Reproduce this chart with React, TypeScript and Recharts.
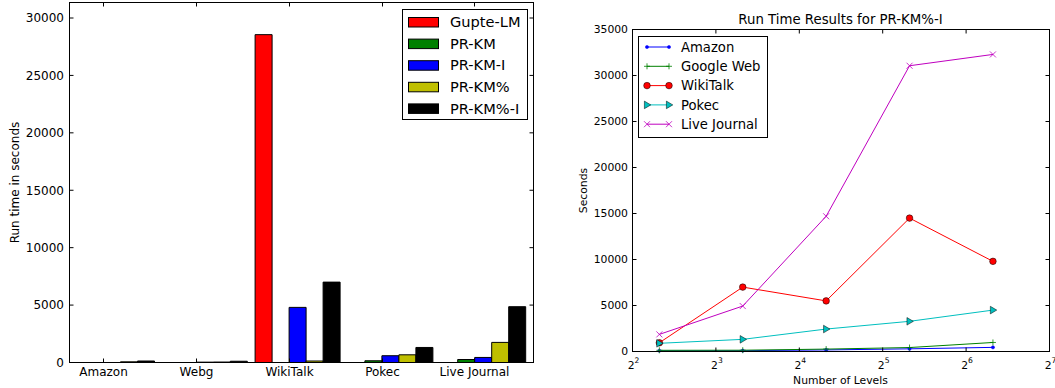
import React from "react";
import { BarChart, Bar, XAxis, YAxis, LineChart, Line, Legend } from "recharts";

// ---- left chart: run time per dataset ----
const datasets = ["Amazon", "Webg", "WikiTalk", "Pokec", "Live Journal"];
const gupteLM = [0, 0, 28550, 0, 0];
const prKM = [0, 0, 0, 150, 260];
const prKMI = [0, 30, 4800, 590, 440];
const prKMPct = [60, 40, 130, 670, 1750];
const prKMPctI = [130, 110, 7000, 1310, 4860];
const runTimeTicks = [0, 5000, 10000, 15000, 20000, 25000, 30000];

// ---- right chart: PR-KM%-I vs number of levels ----
const levels = [5, 10, 20, 40, 80];
const amazon = [80, 90, 170, 290, 450];
const googleWeb = [130, 140, 260, 430, 980];
const wikiTalk = [950, 7000, 5500, 14500, 9800];
const pokec = [890, 1320, 2440, 3280, 4500];
const liveJournal = [1860, 4940, 14700, 31060, 32290];
const levelTicks = [4, 8, 16, 32, 64, 128];
const secondsTicks = [0, 5000, 10000, 15000, 20000, 25000, 30000, 35000];

const FONT = "'DejaVu Sans', sans-serif";

const barSeries = [
  { key: "gupte", label: "Gupte-LM", color: "#ff0000" },
  { key: "prkm", label: "PR-KM", color: "#008000" },
  { key: "prkmi", label: "PR-KM-I", color: "#0000ff" },
  { key: "prkmp", label: "PR-KM%", color: "#bfbf00" },
  { key: "prkmpi", label: "PR-KM%-I", color: "#000000" },
];

const barRows = datasets.map((name, i) => ({
  name,
  gupte: gupteLM[i],
  prkm: prKM[i],
  prkmi: prKMI[i],
  prkmp: prKMPct[i],
  prkmpi: prKMPctI[i],
}));

const lineSeries = [
  { key: "amazon", label: "Amazon", color: "#0000ff", marker: "dot" },
  { key: "googleWeb", label: "Google Web", color: "#008000", marker: "plus" },
  { key: "wikiTalk", label: "WikiTalk", color: "#ff0000", marker: "circle" },
  { key: "pokec", label: "Pokec", color: "#00bfbf", marker: "tri" },
  { key: "liveJournal", label: "Live Journal", color: "#bf00bf", marker: "x" },
];

const lineRows = levels.map((lv, i) => ({
  levels: lv,
  amazon: amazon[i],
  googleWeb: googleWeb[i],
  wikiTalk: wikiTalk[i],
  pokec: pokec[i],
  liveJournal: liveJournal[i],
}));

function marker(kind: string, cx: number, cy: number, color: string) {
  if (kind === "dot") return <circle cx={cx} cy={cy} r={1.6} fill={color} stroke={color} strokeWidth={0.5} />;
  if (kind === "plus")
    return (
      <g stroke={color} strokeWidth={0.8}>
        <line x1={cx - 3} x2={cx + 3} y1={cy} y2={cy} />
        <line x1={cx} x2={cx} y1={cy - 3} y2={cy + 3} />
      </g>
    );
  if (kind === "circle")
    return <circle cx={cx} cy={cy} r={3.3} fill={color} stroke="#000" strokeWidth={0.5} />;
  if (kind === "tri")
    return (
      <polygon
        points={`${cx + 3.8},${cy} ${cx - 2.6},${cy - 3.8} ${cx - 2.6},${cy + 3.8}`}
        fill={color}
        stroke="#000"
        strokeWidth={0.5}
      />
    );
  return (
    <g stroke={color} strokeWidth={0.8}>
      <line x1={cx - 3} x2={cx + 3} y1={cy - 3} y2={cy + 3} />
      <line x1={cx - 3} x2={cx + 3} y1={cy + 3} y2={cy - 3} />
    </g>
  );
}

const makeDot = (kind: string, color: string) => (props: any) => {
  const { cx, cy, index } = props;
  return <g key={index}>{marker(kind, cx, cy, color)}</g>;
};

// left chart ticks (svg coords == page coords)
const BarXTick = (props: any) => {
  const { x, payload } = props;
  const tx = Math.round(x - 8.4) + 0.5;
  return (
    <g>
      <text x={tx} y={376} textAnchor="middle" fontFamily={FONT} fontSize={12} fill="#000">
        {payload.value}
      </text>
      <line x1={tx} x2={tx} y1={362.5} y2={358.5} stroke="#000" />
      <line x1={tx} x2={tx} y1={2.5} y2={6.5} stroke="#000" />
    </g>
  );
};

const BarYTick = (props: any) => {
  const { y, payload } = props;
  return (
    <g>
      <text x={64} y={y} dy={4.3} textAnchor="end" fontFamily={FONT} fontSize={12} fill="#000">
        {payload.value}
      </text>
      <line x1={69.5} x2={73.5} y1={y} y2={y} stroke="#000" />
      <line x1={533.5} x2={529.5} y1={y} y2={y} stroke="#000" />
    </g>
  );
};

// right chart ticks (svg offset 560px)
const LevelTick = (props: any) => {
  const { x, payload } = props;
  const exp = Math.round(Math.log2(payload.value));
  return (
    <g>
      <text x={x + 1} y={368.5} textAnchor="middle" fontFamily={FONT} fontSize={10.8} fill="#000">
        <tspan>2</tspan>
        <tspan fontSize={7.6} dy={-5.5}>
          {exp}
        </tspan>
      </text>
      <line x1={x} x2={x} y1={351.5} y2={347.5} stroke="#000" />
      <line x1={x} x2={x} y1={29.5} y2={33.5} stroke="#000" />
    </g>
  );
};

const SecondsTick = (props: any) => {
  const { y, payload } = props;
  return (
    <g>
      <text x={68} y={y} dy={3.9} textAnchor="end" fontFamily={FONT} fontSize={10.8} fill="#000">
        {payload.value}
      </text>
      <line x1={72.5} x2={76.5} y1={y} y2={y} stroke="#000" />
      <line x1={489.5} x2={485.5} y1={y} y2={y} stroke="#000" />
    </g>
  );
};

const BarLegend = () => (
  <svg width={127} height={112} style={{ display: "block" }}>
    <rect x={0.5} y={0.5} width={125} height={110} fill="#fff" stroke="#000" />
    {barSeries.map((s, i) => {
      const cy = 13 + i * 21.6;
      return (
        <g key={s.key}>
          <rect x={6.5} y={cy - 4.5} width={30} height={9.5} fill={s.color} stroke="#000" />
          <text x={48} y={cy} dy={5.2} fontFamily={FONT} fontSize={14.6} fill="#000">
            {s.label}
          </text>
        </g>
      );
    })}
  </svg>
);

const LineLegend = () => (
  <svg width={131} height={102} style={{ display: "block" }}>
    <rect x={0.5} y={0.5} width={129} height={101} fill="#fff" stroke="#000" />
    {lineSeries.map((s, i) => {
      const cy = 11 + i * 19.3;
      return (
        <g key={s.key}>
          <line x1={9} x2={31} y1={cy} y2={cy} stroke={s.color} />
          {marker(s.marker, 9, cy, s.color)}
          {marker(s.marker, 31, cy, s.color)}
          <text x={43} y={cy} dy={4.7} fontFamily={FONT} fontSize={13.2} fill="#000">
            {s.label}
          </text>
        </g>
      );
    })}
  </svg>
);

export default function App() {
  return (
    <div
      style={{
        position: "fixed",
        left: 0,
        top: 0,
        width: 1055,
        height: 388,
        background: "#fff",
        overflow: "hidden",
      }}
    >
      <div style={{ position: "absolute", left: 0, top: 0 }}>
        <BarChart
          width={545}
          height={388}
          data={barRows}
          margin={{ top: 2.5, right: 15.9, bottom: 0, left: 0 }}
          barCategoryGap={4.4}
          barGap={0}
        >
          <XAxis
            dataKey="name"
            height={25.5}
            axisLine={false}
            tickLine={false}
            interval={0}
            tick={BarXTick}
          />
          <YAxis
            width={65.1}
            domain={[0, 31350]}
            ticks={runTimeTicks}
            axisLine={false}
            tickLine={false}
            tick={BarYTick}
            label={() => (
              <text
                x={15}
                y={182.5}
                transform="rotate(-90, 15, 182.5)"
                textAnchor="middle"
                dominantBaseline="central"
                fontFamily={FONT}
                fontSize={12}
                fill="#000"
              >
                Run time in seconds
              </text>
            )}
          />
          {barSeries.map((s) => (
            <Bar
              key={s.key}
              dataKey={s.key}
              name={s.label}
              fill={s.color}
              stroke="#000"
              strokeWidth={1}
              isAnimationActive={false}
            />
          ))}
          <Legend
            layout="vertical"
            align="center"
            verticalAlign="middle"
            content={BarLegend}
            wrapperStyle={{ left: 402, top: 9, width: 127, height: 112 }}
          />
        </BarChart>
      </div>

      <div style={{ position: "absolute", left: 560, top: 0 }}>
        <LineChart
          width={495}
          height={388}
          data={lineRows}
          margin={{ top: 29.5, right: 5.5, bottom: 0, left: 0 }}
        >
          <XAxis
            dataKey="levels"
            type="number"
            scale="log"
            domain={[4, 128]}
            ticks={levelTicks}
            allowDataOverflow
            interval={0}
            height={36.5}
            axisLine={false}
            tickLine={false}
            tick={LevelTick}
            label={() => (
              <text x={280.5} y={383.5} textAnchor="middle" fontFamily={FONT} fontSize={10.8} fill="#000">
                Number of Levels
              </text>
            )}
          />
          <YAxis
            width={72.5}
            domain={[0, 35000]}
            ticks={secondsTicks}
            axisLine={false}
            tickLine={false}
            tick={SecondsTick}
            label={() => (
              <text
                x={23.5}
                y={190.5}
                transform="rotate(-90, 23.5, 190.5)"
                textAnchor="middle"
                dominantBaseline="central"
                fontFamily={FONT}
                fontSize={10.8}
                fill="#000"
              >
                Seconds
              </text>
            )}
          />
          {lineSeries.map((s) => (
            <Line
              key={s.key}
              type="linear"
              dataKey={s.key}
              name={s.label}
              stroke={s.color}
              strokeWidth={1}
              dot={makeDot(s.marker, s.color)}
              activeDot={false}
              isAnimationActive={false}
            />
          ))}
          <Legend
            layout="vertical"
            align="center"
            verticalAlign="middle"
            content={LineLegend}
            wrapperStyle={{ left: 78, top: 36, width: 131, height: 102 }}
          />
        </LineChart>
      </div>

      <svg
        width={1055}
        height={388}
        style={{ position: "absolute", left: 0, top: 0, pointerEvents: "none" }}
      >
        <rect x={69.5} y={2.5} width={464} height={360} fill="none" stroke="#000" />
        <rect x={632.5} y={29.5} width={417} height={322} fill="none" stroke="#000" />
        <text x={840.5} y={23.5} textAnchor="middle" fontFamily={FONT} fontSize={13.3} fill="#000">
          Run Time Results for PR-KM%-I
        </text>
      </svg>
    </div>
  );
}
